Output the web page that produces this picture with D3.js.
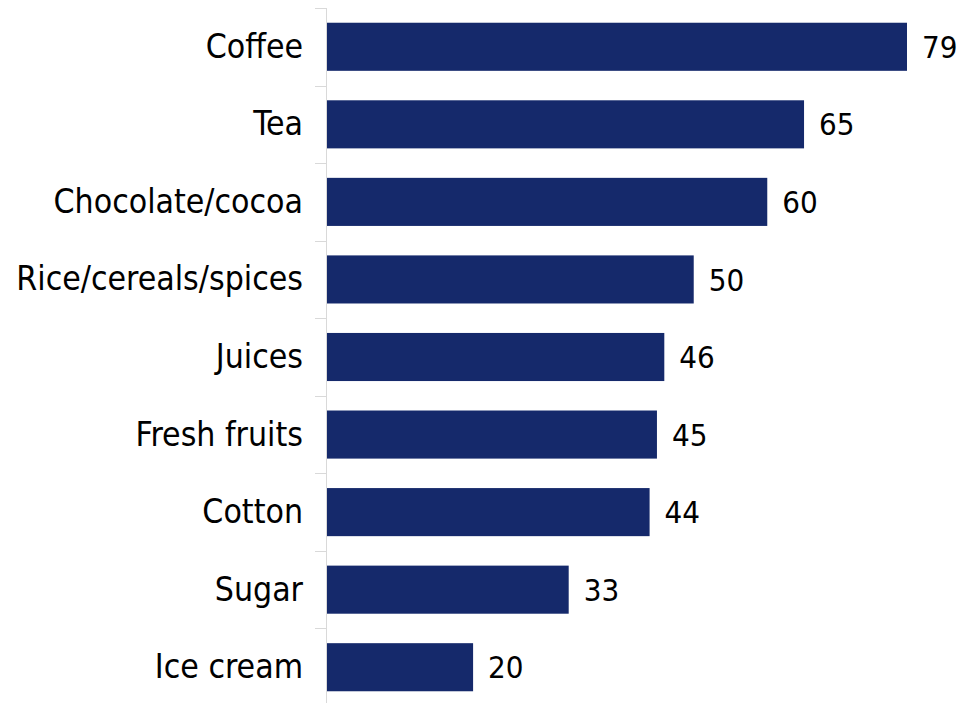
<!DOCTYPE html>
<html>
<head>
<meta charset="utf-8">
<script src="https://cdn.jsdelivr.net/npm/d3@7"></script>
<style>
  body { margin: 0; background: #fff; }
  text { font-family: "DejaVu Sans Condensed", "DejaVu Sans", sans-serif; fill: #000; }
</style>
</head>
<body>
<div id="chart"></div>
<script>
const categories = ["Coffee", "Tea", "Chocolate/cocoa", "Rice/cereals/spices", "Juices",
    "Fresh fruits", "Cotton", "Sugar", "Ice cream"];
const values = [79, 65, 60, 50, 46, 45, 44, 33, 20];

const width = 960, height = 703;
const margin = {top: 8, right: 53, bottom: -3, left: 326};

const svg = d3.select("#chart").append("svg")
    .attr("width", width)
    .attr("height", height);

const x = d3.scaleLinear()
    .domain([0, 79])
    .range([margin.left, 907]);

const y = d3.scaleBand()
    .domain(categories)
    .range([margin.top, height - margin.bottom])
    .paddingInner(0.38)
    .paddingOuter(0.19);

// category axis: light gray line plus ticks on the band boundaries
const axis = svg.append("g");
axis.append("line")
    .attr("x1", margin.left + 0.5).attr("x2", margin.left + 0.5)
    .attr("y1", margin.top).attr("y2", height)
    .attr("stroke", "#d9d9d9");

const step = y.step();
axis.selectAll("line.tick")
    .data(d3.range(categories.length + 1))
    .enter().append("line")
    .attr("class", "tick")
    .attr("x1", margin.left - 11).attr("x2", margin.left)
    .attr("y1", i => Math.round(margin.top + i * step) + 0.5)
    .attr("y2", i => Math.round(margin.top + i * step) + 0.5)
    .attr("stroke", "#d9d9d9");

axis.selectAll("text")
    .data(categories)
    .enter().append("text")
    .attr("x", 303)
    .attr("y", d => y(d) + y.bandwidth() / 2)
    .attr("dy", "0.33em")
    .attr("text-anchor", "end")
    .style("font-size", "33.5px")
    .text(d => d);

// bars
svg.append("g").selectAll("rect")
    .data(values)
    .enter().append("rect")
    .attr("x", x(0) + 1)
    .attr("y", (d, i) => y(categories[i]))
    .attr("width", d => x(d) - x(0) - 1)
    .attr("height", y.bandwidth())
    .attr("fill", "#15296b");

// value labels
svg.append("g").selectAll("text")
    .data(values)
    .enter().append("text")
    .attr("x", d => x(d) + 15)
    .attr("y", (d, i) => y(categories[i]) + y.bandwidth() / 2)
    .attr("dy", "0.36em")
    .style("font-size", "31px")
    .text(d => d);
</script>
</body>
</html>
